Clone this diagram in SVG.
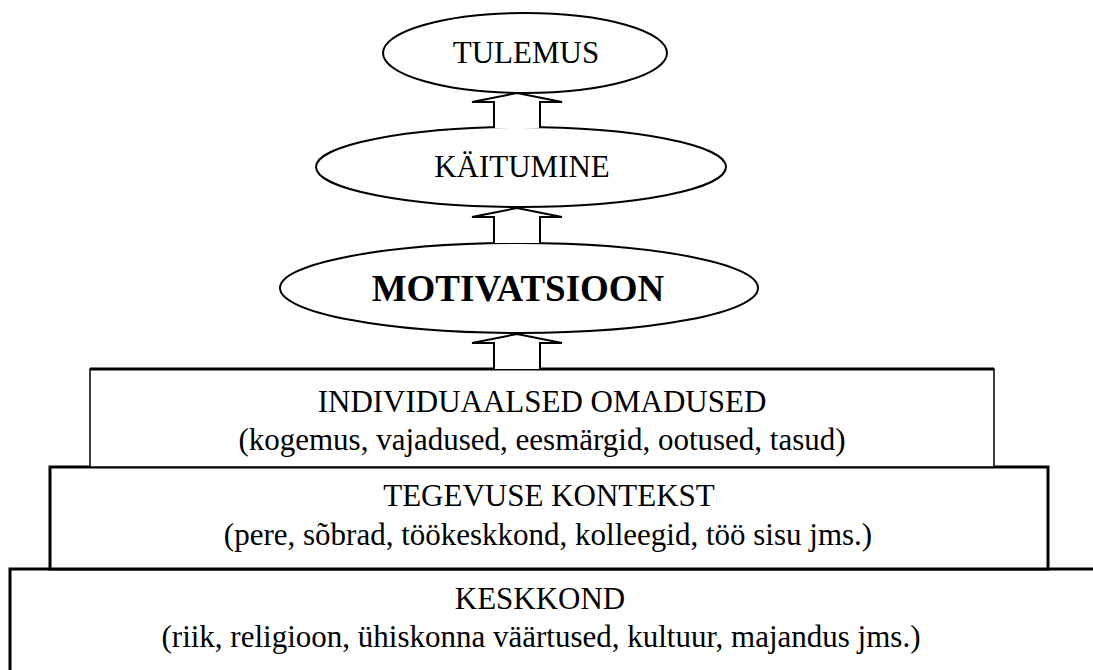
<svg xmlns="http://www.w3.org/2000/svg" width="1093" height="670" viewBox="0 0 1093 670">
<style>
.bg{fill:#fff}
.el{fill:#fff;stroke:#000;stroke-width:2}
.box{fill:#fff;stroke:#000;stroke-width:3}
.box-thin{fill:#fff;stroke:#000;stroke-width:1.5}
.edge{stroke:#000;stroke-width:3;fill:none}
.arr{fill:#fff;stroke:#000;stroke-width:2;stroke-linejoin:miter}
.t{font-family:"Liberation Serif","Times New Roman",serif;font-size:31px;fill:#000;text-anchor:middle}
.tb{font-family:"Liberation Serif","Times New Roman",serif;font-size:37px;font-weight:bold;fill:#000;text-anchor:middle}
</style>
<rect class="bg" x="0" y="0" width="1093" height="670"/>
<g id="keskkond">
<rect class="box" x="10" y="569" width="1100" height="120"/>
<text class="t" x="540" y="609">KESKKOND</text>
<text class="t" x="541" y="647">(riik, religioon, ühiskonna väärtused, kultuur, majandus jms.)</text>
</g>
<g id="tegevuse-kontekst">
<rect class="box" x="50" y="467" width="998" height="102"/>
<text class="t" x="549" y="506">TEGEVUSE KONTEKST</text>
<text class="t" x="548" y="545">(pere, sõbrad, töökeskkond, kolleegid, töö sisu jms.)</text>
</g>
<g id="individuaalsed-omadused">
<rect class="box-thin" x="90" y="369" width="904" height="98"/>
<line class="edge" x1="90" y1="369" x2="994" y2="369"/>
<text class="t" x="542" y="412">INDIVIDUAALSED OMADUSED</text>
<text class="t" x="542" y="450">(kogemus, vajadused, eesmärgid, ootused, tasud)</text>
</g>
<g id="motivatsioon">
<ellipse class="el" cx="519" cy="288" rx="239" ry="45"/>
<text class="tb" x="518" y="301">MOTIVATSIOON</text>
</g>
<g id="kaitumine">
<ellipse class="el" cx="521" cy="167" rx="205" ry="40"/>
<text class="t" x="522" y="177">KÄITUMINE</text>
</g>
<g id="tulemus">
<ellipse class="el" cx="525" cy="53" rx="142" ry="40"/>
<text class="t" x="526" y="63">TULEMUS</text>
</g>
<g id="connectors">
<polyline class="arr" points="494,128 494,102 472,102 517,93 562,102 540,102 540,128"/>
<polyline class="arr" points="494,243 494,217 472,217 517,208 562,217 540,217 540,243"/>
<polyline class="arr" points="494,369 494,343 472,343 517,334 562,343 540,343 540,369"/>
</g>
</svg>
